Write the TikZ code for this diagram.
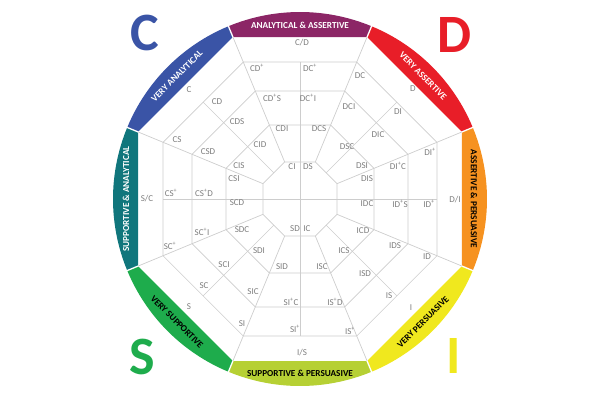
\documentclass[tikz,border=0pt]{standalone}
\usepackage{fontspec}
\setmainfont{Carlito}
\definecolor{cpurple}{RGB}{140,38,102}
\definecolor{cred}{RGB}{232,30,40}
\definecolor{corange}{RGB}{246,146,32}
\definecolor{cyellow}{RGB}{240,232,30}
\definecolor{clime}{RGB}{182,208,52}
\definecolor{cgreen}{RGB}{30,172,76}
\definecolor{cteal}{RGB}{16,118,124}
\definecolor{cblue}{RGB}{58,84,166}
\definecolor{gridgray}{RGB}{205,205,205}
\definecolor{lblgray}{RGB}{125,125,125}
\newcommand\pls{\textsuperscript{+}}
\begin{document}
\begin{tikzpicture}[x=1pt,y=1pt,
  grid/.style={draw=gridgray, line width=0.7pt},
  lbl/.style={text=lblgray, font=\fontsize{9}{10}\selectfont, inner sep=0pt},
  band/.style={font=\bfseries\fontsize{9.2}{10}\selectfont, inner sep=0pt},
  big/.style={font=\bfseries\fontsize{54}{54}\selectfont, inner sep=0pt}]
\useasboundingbox (-300,-201) rectangle (300,199);
% coloured bands
\foreach \p/\col in {90/cpurple,45/cred,0/corange,-45/cyellow,-90/clime,-135/cgreen,180/cteal,135/cblue}{
  \fill[\col] (\p+22.5:175.35) -- (\p+22.5:187) arc[start angle=\p+22.5, end angle=\p-22.5, radius=187pt] -- (\p-22.5:175.35) -- cycle;
}
\foreach \a in {22.5,67.5,...,337.5}{
  \draw[white, line width=1.3pt] (\a:174) -- (\a:189);
}
% grid octagons
\foreach \r in {148.29,116.90,80.10,40.05}{
  \draw[grid] (22.5:\r) -- (67.5:\r) -- (112.5:\r) -- (157.5:\r) -- (202.5:\r) -- (247.5:\r) -- (292.5:\r) -- (337.5:\r) -- cycle;
}
% radial lines between sectors
\foreach \a in {22.5,67.5,...,337.5}{
  \draw[grid] (\a:40.05) -- (\a:175.35);
}
% sector centre lines
\foreach \a in {0,90,180,270}{
  \draw[grid] (0,0) -- (\a:137);
}
\foreach \a in {45,135,225,315}{
  \draw[grid] (\a:37) -- (\a:137);
}
% band texts
\node[band, text=white] (bCD) at (90:174) {ANALYTICAL \& ASSERTIVE};
\node[band, text=white, rotate=-45] (bD) at (45:174) {VERY ASSERTIVE};
\node[band, text=black, rotate=-90] (bDI) at (0:174) {ASSERTIVE \& PERSUASIVE};
\node[band, text=black, rotate=45] (bI) at (-45:174) {VERY PERSUASIVE};
\node[band, text=black] (bIS) at (-90:174) {SUPPORTIVE \& PERSUASIVE};
\node[band, text=black, rotate=-45] (bS) at (-135:174) {VERY SUPPORTIVE};
\node[band, text=white, rotate=90] (bSC) at (180:174) {SUPPORTIVE \& ANALYTICAL};
\node[band, text=white, rotate=45] (bC) at (135:174) {VERY ANALYTICAL};
% big letters
\node[big, text=cblue] (LC) at (-155,166) {C};
\node[big, text=cred] (LD) at (155,164) {D};
\node[big, text=cgreen] (LS) at (-158,-158) {S};
\node[big, text=cyellow] (LI) at (154,-157) {I};
% cell labels
\foreach \x/\y/\t [count=\i] in {
  2/156/{C/D}, -43/131/{CD\pls}, 10/131/{DC\pls}, -28/101/{CD\pls S}, 8/101/{DC\pls I},
  -18/70/CDI, 19/70/DCS, -8/32/CI, 8/32/DS,
  113/110/D, 60/123/DC, 98/87/DI, 49/92/DCI, 78/64/DIC, 47/52/DSC, 62/33/DSI,
  130/47/{DI\pls}, 98/33/{DI\pls C}, 67/20/DIS, 155/-1/{D/I}, 67/-5/IDC, 100/-5/{ID\pls S}, 129/-5/{ID\pls},
  63/-32/ICD, 44/-52/ICS, 95/-47/IDS, 127/-58/ID, 65/-75/ISD, 89/-97/IS, 111/-109/I,
  35/-103/{IS\pls D}, 50/-132/{IS\pls}, -9/-103/{SI\pls C}, -5/-130/{SI\pls}, 2/-154/{I/S},
  -18/-68/SID, 22/-68/ISC, -5/-30/SD, 7/-30/IC,
  -58/-31/SDC, -41/-52/SDI, -76/-66/SCI, -47/-93/SIC, -96/-87/SC, -58/-125/SI, -111/-108/S,
  -153/0/{S/C}, -129/6/{CS\pls}, -96/6/{CS\pls D}, -66/20/CSI, -63/-4/SCD, -130/-47/{SC\pls}, -98/-33/{SC\pls I},
  -111/109/C, -83/97/CD, -123/59/CS, -63/77/CDS, -92/47/CSD, -40/54/CID, -61/33/CIS}{
  \node[lbl] (l\i) at (\x,\y) {\t};
}
\end{tikzpicture}
\end{document}
